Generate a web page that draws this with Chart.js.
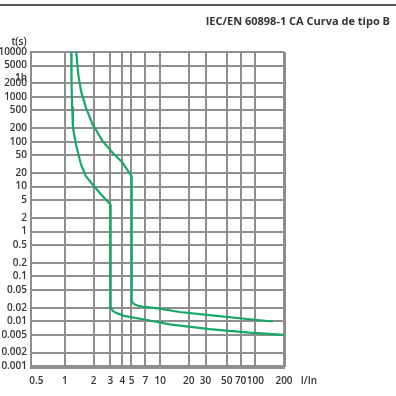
<!DOCTYPE html>
<html lang="es">
<head>
    <meta charset="UTF-8">
    <title>Curva B</title>
    <script src="https://cdn.jsdelivr.net/npm/chart.js@4/dist/chart.umd.min.js"></script>
    <style>
        body { margin: 0; background: #fff; }
        #wrap { position: relative; width: 396px; height: 396px; }
        #rule { position: absolute; left: 0; top: 4px; width: 396px; height: 1.5px; background: #555; }
        #title { position: absolute; right: 6px; top: 13px; font: bold 11px 'Open Sans'; color: #333; white-space: nowrap; }
    </style>
</head>
<body>
<div id="wrap">
    <div id="rule"></div>
    <div id="title">IEC/EN 60898-1 CA Curva de tipo B</div>
    <canvas id="myChart" width="396" height="396"></canvas>
</div>

<script type="text/javascript">
    // ticks (I/In and t in seconds)
    let xTicks = [0.5, 1, 2, 3, 4, 5, 7, 10, 20, 30, 50, 70, 100, 200];
    let yTicks = [0.001, 0.002, 0.005, 0.01, 0.02, 0.05, 0.1, 0.2, 0.5, 1, 2, 5, 10, 20, 50, 100, 200, 500, 1000, 2000, 3600, 5000, 10000];
    let yLabels = ['0.001', '0.002', '0.005', '0.01', '0.02', '0.05', '0.1', '0.2', '0.5', '1', '2', '5', '10', '20', '50', '100', '200', '500', '1000', '2000', '1h', '5000', '10000'];

    // lower curve (min tripping)
    let lowI = [1.165, 1.173, 1.19, 1.214, 1.305, 1.474, 1.66, 1.95, 2.39, 3, 3, 3.04, 3.2, 3.5, 4.2, 6.56, 12.6, 33, 87, 200];
    let lowT = [10000, 1900, 600, 208, 87, 31.3, 17.2, 11.2, 6.74, 4.0, 0.028, 0.02, 0.0168, 0.0152, 0.0132, 0.0111, 0.0085, 0.0067, 0.0056, 0.005];

    // upper curve (max tripping)
    let highI = [1.315, 1.38, 1.474, 1.66, 1.95, 2.49, 3.17, 4.04, 5, 5, 5.06, 5.3, 5.9, 6.56, 9.84, 16, 33, 87, 153];
    let highT = [10000, 3180, 1360, 578, 245, 103, 56.7, 34, 17.1, 0.036, 0.028, 0.0242, 0.0222, 0.0213, 0.0192, 0.0161, 0.01365, 0.0111, 0.0099];

    let green = '#17a867';
    let gridGrey = '#8e8e8e';
    let textFont = { family: 'Open Sans', size: 10, weight: '600', lineHeight: 1.2 };

    let toPoints = function (xs, ys) {
        return xs.map(function (v, i) { return { x: v, y: ys[i] }; });
    };

    let unitLabels = {
        id: 'unitLabels',
        afterDraw: function (chart) {
            let ctx = chart.ctx;
            let area = chart.chartArea;
            ctx.save();
            ctx.fillStyle = '#333';
            ctx.font = '600 10px "Open Sans"';
            ctx.textAlign = 'center';
            ctx.textBaseline = 'middle';
            ctx.fillText('t(s)', 19, area.top - 10);
            ctx.fillText('I/In', 309, area.bottom + 13);
            ctx.restore();
        }
    };

    let ctx = document.getElementById('myChart').getContext('2d');
    window.curveChart = new Chart(ctx, {
        type: 'line',
        data: {
            datasets: [
                { data: toPoints(lowI, lowT), borderColor: green, borderWidth: 2.2, pointRadius: 0, fill: false },
                { data: toPoints(highI, highT), borderColor: green, borderWidth: 2.2, pointRadius: 0, fill: false }
            ]
        },
        options: {
            responsive: false,
            animation: false,
            layout: { padding: { left: 0, top: 52, right: 112, bottom: 0 } },
            plugins: { legend: { display: false }, tooltip: { enabled: false } },
            scales: {
                x: {
                    type: 'logarithmic',
                    min: 0.44,
                    max: 200,
                    afterBuildTicks: function (s) { s.ticks = xTicks.map(function (v) { return { value: v }; }); },
                    afterFit: function (s) { s.height = 28; },
                    ticks: {
                        autoSkip: false, maxRotation: 0, padding: 7, color: '#333', font: textFont,
                        callback: function (v) { return String(v); }
                    },
                    grid: {
                        drawTicks: false,
                        color: function (c) { return c.tick && c.tick.value === 0.5 ? 'rgba(0,0,0,0)' : gridGrey; },
                        lineWidth: function (c) { return c.tick && c.tick.value === 200 ? 3 : 2; }
                    },
                    border: { color: gridGrey, width: 2 }
                },
                y: {
                    type: 'logarithmic',
                    min: 0.00091,
                    max: 10000,
                    afterBuildTicks: function (s) { s.ticks = yTicks.map(function (v) { return { value: v }; }); },
                    afterFit: function (s) { s.width = 31; },
                    ticks: {
                        autoSkip: false, padding: 4, color: '#333', font: textFont,
                        // the "1h" label sits a little below its line in the original
                        callback: function (v, i) { return yLabels[i] === '1h' ? ['', '1h'] : yLabels[i]; }
                    },
                    grid: {
                        drawTicks: false,
                        color: function (c) { return c.tick && c.tick.value === 3600 ? 'rgba(0,0,0,0)' : gridGrey; },
                        lineWidth: 2
                    },
                    border: { color: gridGrey, width: 2 }
                }
            }
        },
        plugins: [unitLabels]
    });
</script>
</body>
</html>
